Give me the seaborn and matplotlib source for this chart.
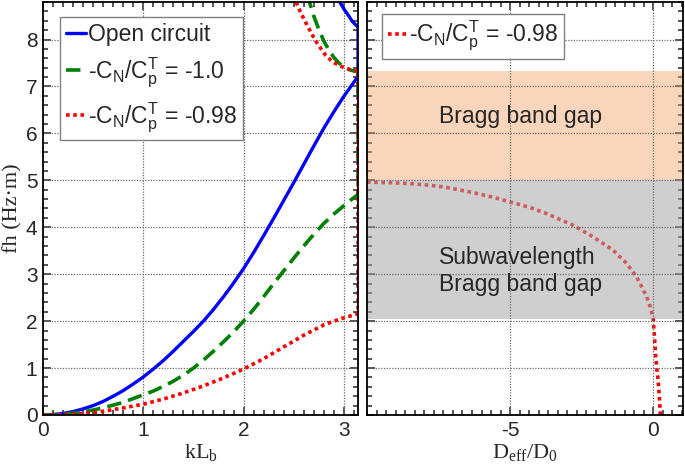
import numpy as np
import pandas as pd
import matplotlib
matplotlib.use("Agg")
import matplotlib.pyplot as plt
from matplotlib.ticker import MultipleLocator, FixedLocator
import seaborn as sns

# --- data ---
PI = np.pi

# open circuit: lower band, edge at kL = pi, upper band
kl_open = [0, 0.1, 0.2, 0.3, 0.4, 0.5, 0.6, 0.7, 0.8, 0.9, 1.0, 1.1, 1.2, 1.3, 1.4,
           1.5, 1.6, 1.7, 1.8, 1.9, 2.0, 2.1, 2.2, 2.3, 2.4, 2.5, 2.6, 2.7, 2.8,
           2.9, 3.0, 3.05, 3.1, 3.13, PI,
           PI, 3.13, 3.11, 3.08, 3.05, 3.01, 2.97, 2.94]
fh_open = [0, 0.008, 0.032, 0.073, 0.13, 0.2, 0.29, 0.40, 0.52, 0.66, 0.81, 0.98,
           1.16, 1.36, 1.57, 1.78, 2.0, 2.25, 2.52, 2.81, 3.12, 3.46, 3.82, 4.19,
           4.57, 4.95, 5.34, 5.73, 6.11, 6.46, 6.79, 6.94, 7.09, 7.18, 7.26,
           8.28, 8.29, 8.33, 8.4, 8.5, 8.62, 8.76, 8.88]

# -C_N/C_p^T = -1.0
kl_m100 = [0, 0.1, 0.2, 0.3, 0.4, 0.5, 0.6, 0.7, 0.8, 0.9, 1.0, 1.1, 1.2, 1.3, 1.4,
           1.5, 1.6, 1.7, 1.8, 1.9, 2.0, 2.1, 2.2, 2.3, 2.4, 2.5, 2.6, 2.7, 2.8,
           2.9, 3.0, 3.05, 3.1, PI,
           PI, 3.1, 3.05, 3.0, 2.95, 2.9, 2.85, 2.8, 2.75, 2.7, 2.65, 2.62]
fh_m100 = [0, 0.004, 0.017, 0.038, 0.068, 0.106, 0.153, 0.21, 0.27, 0.35, 0.43,
           0.51, 0.61, 0.72, 0.85, 1.0, 1.17, 1.36, 1.56, 1.77, 2.0, 2.25, 2.52,
           2.8, 3.07, 3.34, 3.6, 3.85, 4.08, 4.28, 4.46, 4.55, 4.63, 4.7,
           7.32, 7.33, 7.36, 7.42, 7.5, 7.62, 7.78, 7.97, 8.22, 8.5, 8.85, 9.0]

# -C_N/C_p^T = -0.98
kl_m098 = [0, 0.2, 0.4, 0.6, 0.8, 1.0, 1.2, 1.4, 1.6, 1.8, 2.0, 2.2, 2.4, 2.6, 2.8,
           2.9, 3.0, 3.1, PI,
           PI, 3.1, 3.03, 2.96, 2.89, 2.82, 2.76, 2.71, 2.66, 2.61, 2.56, 2.52]
fh_m098 = [0, 0.005, 0.03, 0.08, 0.15, 0.23, 0.34, 0.47, 0.62, 0.79, 0.98, 1.2,
           1.45, 1.7, 1.92, 2.0, 2.07, 2.13, 2.16,
           7.32, 7.34, 7.38, 7.44, 7.52, 7.66, 7.84, 8.0, 8.2, 8.4, 8.62, 8.82]

# effective bending stiffness for -0.98
deff_m098 = [0.25, 0.2, 0.16, 0.12, 0.08, 0.05, 0.02, 0.0, -0.1, -0.23, -0.4, -0.58,
             -0.93, -1.4, -2.09, -2.79, -3.72, -4.3, -5.0, -5.6, -6.16, -6.8,
             -7.33, -7.9, -8.49, -9.2, -9.88, -10.3]
fh_deff = [0, 0.5, 0.8, 1.0, 1.3, 1.6, 1.85, 2.05, 2.3, 2.52, 2.73, 2.94, 3.23,
           3.51, 3.79, 4.04, 4.29, 4.42, 4.54, 4.64, 4.72, 4.8, 4.86, 4.9, 4.93,
           4.95, 4.96, 4.97]

subwave_gap = (2.05, 5.0)
bragg_gap = (5.0, 7.33)

label_open = "Open circuit"
label_m100 = r"-C$_N$/C$_p^T$ = -1.0"
label_m098 = r"-C$_N$/C$_p^T$ = -0.98"

# --- style ---
sns.set_style("ticks")
plt.rcParams["font.family"] = ["Liberation Sans", "DejaVu Sans"]
plt.rcParams["mathtext.default"] = "regular"
plt.rcParams["axes.unicode_minus"] = False
plt.rcParams["axes.linewidth"] = 1.3

fig = plt.figure(figsize=(6.85, 4.74), dpi=100)
ax1 = fig.add_axes([0.0628, 0.1245, 0.4599, 0.8713])
ax2 = fig.add_axes([0.5358, 0.1245, 0.4613, 0.8713])

dots = (0, (1, 1))

sns.lineplot(x=kl_open, y=fh_open, sort=False, estimator=None, ax=ax1,
             color="blue", lw=2.4, label=label_open, zorder=4)
sns.lineplot(x=kl_m100, y=fh_m100, sort=False, estimator=None, ax=ax1,
             color="green", lw=2.6, linestyle=(0, (4, 2)), label=label_m100, zorder=4)
sns.lineplot(x=kl_m098, y=fh_m098, sort=False, estimator=None, ax=ax1,
             color="red", lw=2.6, linestyle=dots, label=label_m098, zorder=4)

sns.lineplot(x=deff_m098, y=fh_deff, sort=False, estimator=None, ax=ax2,
             color="red", lw=2.6, linestyle=dots, label=label_m098, zorder=2)
ax2.axhspan(*subwave_gap, color="#a8a8a8", alpha=0.55, lw=0, zorder=3)
ax2.axhspan(*bragg_gap, color="#f2a46a", alpha=0.45, lw=0, zorder=3)

ax2.text(-7.5, 6.37, "Bragg band gap", ha="left", va="center", fontsize=16.5, zorder=4)
ax2.text(-7.5, 3.35, "Subwavelength", ha="left", va="center", fontsize=16.5, zorder=4)
ax2.text(-7.5, 2.77, "Bragg band gap", ha="left", va="center", fontsize=16.5, zorder=4)

ax1.set_xlim(0, PI)
ax1.xaxis.set_major_locator(MultipleLocator(1))
ax1.xaxis.set_minor_locator(MultipleLocator(0.1))
ax2.set_xlim(-10, 1.04)
ax2.xaxis.set_major_locator(FixedLocator([-5, 0]))
ax2.xaxis.set_minor_locator(MultipleLocator(1 / 3))

for ax in (ax1, ax2):
    ax.set_ylim(0, 8.8)
    ax.yaxis.set_major_locator(MultipleLocator(1))
    ax.yaxis.set_minor_locator(MultipleLocator(0.2))
    ax.tick_params(which="both", direction="in", top=True, right=True,
                   labelsize=15, width=1.1, pad=4)
    ax.tick_params(which="major", length=6)
    ax.tick_params(which="minor", length=3.5)
    for s in ax.spines.values():
        s.set_color("black")
        s.set_zorder(5)
    # dotted grid at the major ticks
    grid_kw = dict(color="#6a6a6a", linestyle=(0, (1, 1.2)), lw=0.9, zorder=3.5)
    x0, x1 = ax.get_xlim()
    for xv in ax.get_xticks():
        if x0 < xv < x1:
            ax.axvline(xv, **grid_kw)
    for yv in ax.get_yticks():
        if 0 < yv < 8.8:
            ax.axhline(yv, **grid_kw)
ax2.tick_params(labelleft=False)

serif = ["Liberation Serif", "DejaVu Serif"]
ax1.set_xlabel(r"kL$_b$", fontsize=16, family=serif, labelpad=2)
ax1.set_ylabel("fh (Hz·m)", fontsize=16, family=serif, labelpad=2)
ax2.set_xlabel(r"D$_{eff}$/D$_0$", fontsize=16, family=serif, labelpad=2)

leg_kw = dict(fontsize=16.5, frameon=True, fancybox=False, edgecolor="#808080",
              framealpha=1, handlelength=0.9, handletextpad=0.05, borderpad=0.25,
              labelspacing=0.45, borderaxespad=0, loc="upper left")
leg1 = ax1.legend(bbox_to_anchor=(0.054, 0.964), **leg_kw)
leg2 = ax2.legend(bbox_to_anchor=(0.047, 0.972), **leg_kw)
for leg in (leg1, leg2):
    leg.get_frame().set_linewidth(1.0)
    leg.set_zorder(6)

fig.savefig("out.png", dpi=100, facecolor="white")
plt.close(fig)
